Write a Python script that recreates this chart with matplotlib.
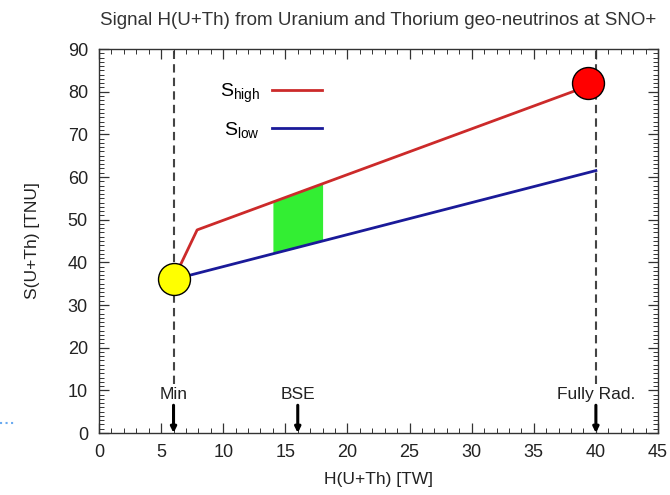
import numpy as np
import matplotlib
matplotlib.use("Agg")
import matplotlib.pyplot as plt
from matplotlib.lines import Line2D
from matplotlib.ticker import MultipleLocator
from matplotlib import font_manager

# ---- data ----
s_high_x = [6, 7.9, 40]
s_high_y = [36, 47.6, 82]
s_low_x = [6, 40]
s_low_y = [36, 61.5]
bse_range = [14, 18]
mark_x = [6, 16, 40]
mark_labels = ["Min", "BSE", "Fully Rad."]
dashed_x = [6, 40]
min_point = (6, 36)
max_point = (39.4, 82)
title = "Signal H(U+Th) from Uranium and Thorium geo-neutrinos at SNO+"
xlabel = "H(U+Th) [TW]"
ylabel = "S(U+Th) [TNU]"

names = {f.name for f in font_manager.fontManager.ttflist}
fam = [f for f in ["Liberation Sans Narrow", "Liberation Sans", "DejaVu Sans"] if f in names]
plt.rcParams['font.family'] = fam
plt.rcParams['mathtext.fontset'] = 'custom'
plt.rcParams['mathtext.rm'] = fam[0]
plt.rcParams['mathtext.it'] = fam[0]

fig = plt.figure(figsize=(6.7, 4.95), dpi=100)
ax = fig.add_axes([99/670, 1-433/495, (658-99)/670, (433-49)/495])
ax.set_xlim(0, 45)
ax.set_ylim(0, 90)

frame_c = '#333333'
for s in ax.spines.values():
    s.set_color(frame_c)
    s.set_linewidth(1.0)

ax.xaxis.set_major_locator(MultipleLocator(5))
ax.xaxis.set_minor_locator(MultipleLocator(1))
ax.yaxis.set_major_locator(MultipleLocator(10))
ax.yaxis.set_minor_locator(MultipleLocator(1))
ax.tick_params(which='both', direction='in', top=True, right=True, color=frame_c, labelsize=13, labelcolor='#222222')
ax.tick_params(which='major', length=7, width=0.9, pad=8)
ax.tick_params(which='minor', length=3.5, width=0.7)

# green BSE band
xb = np.linspace(bse_range[0], bse_range[1], 50)
ax.fill_between(xb, np.interp(xb, s_low_x, s_low_y), np.interp(xb, s_high_x, s_high_y),
                color='#33ee33', lw=0, zorder=2)

# dashed verticals
for xv in dashed_x:
    ax.plot([xv, xv], [11.5, 90], ls=(0, (4, 2.5)), color='#444444', lw=1.5, zorder=1)

ax.plot(s_high_x, s_high_y, color='#cc2a2a', lw=2, zorder=3, label=r'S$_{\mathrm{high}}$')
ax.plot(s_low_x, s_low_y, color='#1a1a99', lw=2, zorder=3, label=r'S$_{\mathrm{low}}$')

ax.plot(*min_point, 'o', ms=23, mfc='#ffff00', mec='black', mew=1, zorder=5, clip_on=False)
ax.plot(*max_point, 'o', ms=23, mfc='#ff0000', mec='black', mew=1, zorder=5, clip_on=False)

for xm, lab in zip(mark_x, mark_labels):
    ax.text(xm, 9.0, lab, ha='center', va='center', fontsize=12.5, color='#222222')
    ax.annotate('', xy=(xm, 0), xytext=(xm, 6.5),
                arrowprops=dict(arrowstyle='-|>', color='black', lw=2.2, mutation_scale=8, shrinkA=0, shrinkB=0))

leg = ax.legend(loc='upper left', bbox_to_anchor=(0.185, 0.96), markerfirst=False, frameon=False,
                fontsize=14, handlelength=2.6, handletextpad=0.6, labelspacing=0.75, alignment='right')
for t in leg.get_texts():
    t.set_ha('right')

ax.set_title(title, fontsize=13.5, pad=17, color='#333333')
ax.set_xlabel(xlabel, fontsize=12.5, labelpad=8, color='#222222')
ax.set_ylabel(ylabel, fontsize=12.5, labelpad=20, color='#222222')

fig.add_artist(Line2D([0, 14/670], [1-423/495, 1-423/495], ls=':', color='#6aaaf0', lw=1.5))

fig.savefig('out.png', dpi=100)
